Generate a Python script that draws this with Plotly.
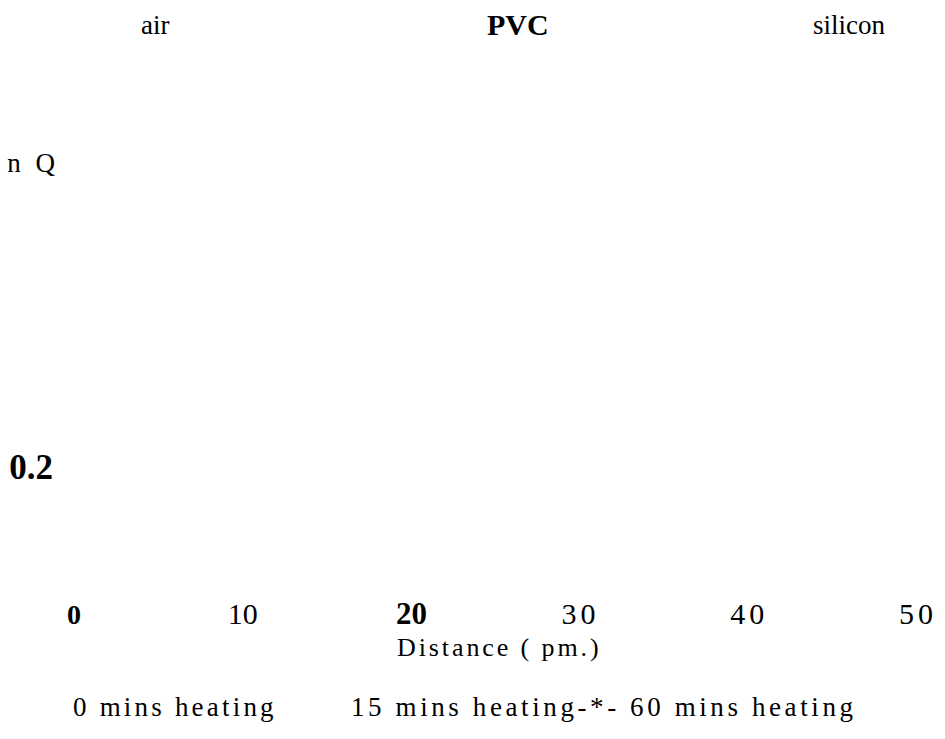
import plotly.graph_objects as go

# ---- data ----
x_tick_values = [0, 10, 20, 30, 40, 50]
x_tick_labels = ["0", "10", "20", "30", "40", "50"]
x_tick_bold = [True, False, True, False, False, False]
y_tick_values = [0.2, 0.6]
y_tick_labels = ["0.2", "n Q"]
region_labels = ["air", "PVC", "silicon"]
region_centers = [4.8, 26.3, 45.9]
series_names = ["0 mins heating", "15 mins heating", "60 mins heating"]
x_title = "Distance ( pm.)"

FONT = "Liberation Serif"


def spaced(txt, px, size=None, bold=False):
    style = f"letter-spacing:{px}px"
    if size:
        style += f";font-size:{size}px"
    inner = f"<b>{txt}</b>" if bold else txt
    return f"<span style='{style}'>{inner}</span>"


xt = []
for lab, b in zip(x_tick_labels, x_tick_bold):
    if b:
        xt.append(spaced(lab, 0, 28 if lab == "0" else 31, True))
    elif lab == "10":
        xt.append(spaced(lab, 0, 30))
    else:
        xt.append(spaced(lab, 4, 30))

yt = []
for lab in y_tick_labels:
    if lab == "0.2":
        yt.append(f"<span style='font-size:35px'><b>{lab[:-1]}"
                  f"<span style='letter-spacing:6px'>{lab[-1]}</span></b></span>")
    else:
        yt.append(spaced(lab, 4, 27))

fig = go.Figure()

W, H = 945, 739
L, R, T, B = 60, 0, 0, 144
plot_h = H - T - B


def ypaper(pix):
    return 1 - (pix - T) / plot_h


annotations = []
for lab, xc in zip(region_labels, region_centers):
    if lab == "PVC":
        txt = f"<b>{lab}</b>"
        size = 30
    else:
        txt = lab
        size = 27
    annotations.append(dict(
        x=xc, xref="x", y=ypaper(25), yref="paper",
        text=txt, showarrow=False, font=dict(family=FONT, size=size, color="black"),
        xanchor="center", yanchor="middle"))

# legend-like line of series names
legend_first = series_names[0]
legend_rest = series_names[1] + "-*- " + series_names[2]
annotations.append(dict(
    x=-0.2, xref="x", y=ypaper(707), yref="paper",
    text=spaced(legend_first, 3.2), showarrow=False,
    font=dict(family=FONT, size=27, color="black"),
    xanchor="left", yanchor="middle"))
annotations.append(dict(
    x=16.3, xref="x", y=ypaper(707), yref="paper",
    text=spaced(legend_rest, 3.6), showarrow=False,
    font=dict(family=FONT, size=27, color="black"),
    xanchor="left", yanchor="middle"))

# x axis title
annotations.append(dict(
    x=25.2, xref="x", y=ypaper(647), yref="paper",
    text=spaced(x_title, 2.9), showarrow=False,
    font=dict(family=FONT, size=26, color="black"),
    xanchor="center", yanchor="middle"))

fig.update_layout(
    width=W, height=H,
    margin=dict(l=L, r=R, t=T, b=B, pad=0),
    paper_bgcolor="white", plot_bgcolor="white",
    showlegend=False,
    font=dict(family=FONT, color="black", size=28),
    xaxis=dict(range=[-0.829, 51.6], tickvals=x_tick_values, ticktext=xt,
               showgrid=False, zeroline=False, showline=False, ticks="",
               fixedrange=True),
    yaxis=dict(range=[0.0359, 0.8111], tickvals=y_tick_values, ticktext=yt,
               showgrid=False, zeroline=False, showline=False, ticks="",
               fixedrange=True),
    annotations=annotations,
)

fig.write_html("out.html", config={"displayModeBar": False},
               post_script="document.body.style.margin='0';")
